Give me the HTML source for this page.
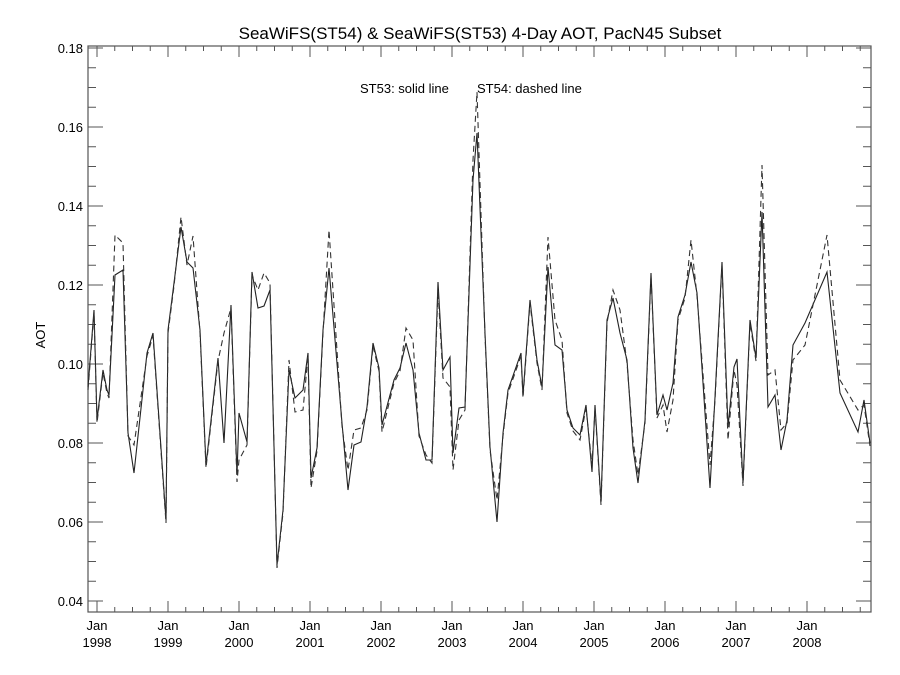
<!DOCTYPE html>
<html><head><meta charset="utf-8"><style>
html,body{margin:0;padding:0;background:#fff;}
svg{display:block;font-family:"Liberation Sans",Arial,sans-serif;}
</style></head><body>
<svg id="s" width="900" height="675" viewBox="0 0 900 675" xmlns="http://www.w3.org/2000/svg">
<rect width="900" height="675" fill="#fff"/>
<text x="480" y="39" font-size="17" text-anchor="middle" fill="#000">SeaWiFS(ST54) &amp; SeaWiFS(ST53) 4-Day AOT, PacN45 Subset</text>
<text x="360" y="93" font-size="13" fill="#000">ST53: solid line</text>
<text x="477" y="93" font-size="13" fill="#000">ST54: dashed line</text>
<text transform="translate(45,335) rotate(-90)" font-size="13" text-anchor="middle" fill="#000">AOT</text>
<rect x="88" y="46" width="783" height="566" fill="none" stroke="#555" stroke-width="1.2"/>
<g id="ticks" stroke="#555" stroke-width="1"></g>
<g id="labels" font-size="13" fill="#000"></g>
<polyline id="sol" fill="none" stroke="#222" stroke-width="1.1"/>
<polyline id="das" fill="none" stroke="#333" stroke-width="1.1" stroke-dasharray="6,4"/>
</svg>
<script>
var NS="http://www.w3.org/2000/svg";
function el(p,t,a,txt){var e=document.createElementNS(NS,t);for(var k in a)e.setAttribute(k,a[k]);if(txt)e.textContent=txt;document.getElementById(p).appendChild(e);}
for(var i=0;i<=28;i++){var v=0.04+i*0.005;var y=601-(v-0.04)/0.02*79;if(y<46)break;var maj=(i%4==0);var L=maj?15:8;
el("ticks","line",{x1:88,y1:y,x2:88+L,y2:y});el("ticks","line",{x1:871,y1:y,x2:871-L,y2:y});
if(maj)el("labels","text",{x:83,y:y+5,"text-anchor":"end"},v.toFixed(2));}
for(var j=0;j<=44;j++){var x=97+j*17.75;if(x>871)break;var maj=(j%4==0);var L=maj?11:5;
el("ticks","line",{x1:x,y1:612,x2:x,y2:612-L});el("ticks","line",{x1:x,y1:46,x2:x,y2:46+L});
if(maj){el("labels","text",{x:x,y:630,"text-anchor":"middle"},"Jan");el("labels","text",{x:x,y:647,"text-anchor":"middle"},String(1998+j/4));}}
var S=[[88,387],[94,310],[97,420],[103,370],[107,390],[109,395],[115,275],[123,270],[128,433],[134,473],[147,353],[153,333],[166,520],[168,330],[174,283],[181,227],[187,262],[193,268],[200,330],[206,465],[218,358],[224,443],[231,305],[237,475],[239,413],[247,442],[252,272],[258,308],[264,306],[270,290],[277,565],[283,510],[289,370],[295,398],[303,390],[308,353],[311,478],[317,448],[323,330],[329,268],[342,423],[348,490],[354,445],[361,442],[367,407],[373,343],[379,368],[382,425],[394,380],[400,368],[406,343],[413,370],[419,433],[426,460],[432,460],[438,282],[443,370],[450,357],[453,453],[459,408],[465,407],[473,180],[477,133],[485,333],[490,447],[497,522],[503,433],[508,390],[521,353],[523,395],[530,300],[537,360],[542,387],[548,267],[555,345],[562,350],[567,410],[573,428],[580,435],[586,405],[592,472],[595,405],[601,502],[607,320],[613,298],[620,333],[627,360],[633,448],[638,483],[645,420],[651,273],[657,415],[663,395],[667,410],[673,383],[678,317],[685,295],[691,262],[697,293],[710,488],[715,397],[722,262],[728,427],[734,367],[737,359],[743,483],[750,320],[756,358],[762,212],[768,407],[775,395],[781,450],[787,420],[793,345],[805,323],[827,272],[840,393],[858,432],[864,400],[870,443]];
var D={115:235,123:243,134:445,181:217,193:236,224:333,237:482,239:460,258:290,264:273,270:283,289:360,295:412,303:410,311:488,329:230,348:470,354:430,361:428,382:432,406:328,413:340,426:455,438:290,443:378,450:387,453:470,459:420,473:160,477:92,497:500,548:237,555:320,562:340,580:440,592:465,601:505,613:290,620:310,633:440,638:475,663:405,667:432,673:400,691:240,710:465,728:440,737:385,762:165,768:375,775:370,781:430,793:360,805:345,827:235,840:380,858:410,864:405};
document.getElementById("sol").setAttribute("points",S.map(function(p){return p[0]+","+p[1];}).join(" "));
document.getElementById("das").setAttribute("points",S.map(function(p){var y=(D[p[0]]!==undefined)?D[p[0]]:p[1]+3;return p[0]+","+y;}).join(" "));
</script>
</body></html>
